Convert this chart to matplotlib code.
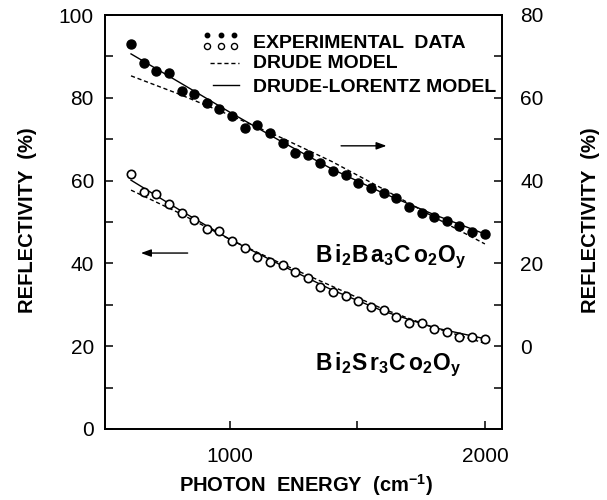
import matplotlib
matplotlib.use("Agg")
import matplotlib.pyplot as plt
from matplotlib.ticker import FixedLocator

plt.rcParams.update({
    "font.family": "Liberation Sans",
    "mathtext.fontset": "custom",
    "mathtext.rm": "Liberation Sans:bold",
    "mathtext.it": "Liberation Sans:bold",
    "mathtext.bf": "Liberation Sans:bold",
    "mathtext.default": "rm",
})

# photon energy (cm-1) of the measured points
energy = [612, 662, 711, 761, 810, 860, 909, 959, 1008, 1058, 1107, 1157, 1207, 1256, 1306,
          1355, 1405, 1454, 1504, 1554, 1603, 1653, 1702, 1752, 1801, 1851, 1900, 1950, 2000]
# Bi2Ba3Co2Oy, read on the right axis
ba_exp = [72.9, 68.4, 66.5, 65.9, 61.6, 60.8, 58.8, 57.4, 55.5, 52.6, 53.5, 51.4, 49.0, 46.7, 46.3,
          44.2, 42.2, 41.4, 39.3, 38.1, 36.9, 35.8, 33.6, 32.1, 31.2, 30.2, 29.0, 27.7, 27.2]
# Bi2Sr3Co2Oy, read on the left axis
sr_exp = [61.6, 57.3, 56.7, 54.3, 52.2, 50.5, 48.2, 47.8, 45.4, 43.8, 41.6, 40.4, 39.6, 38.0, 36.4,
          34.4, 33.2, 32.1, 30.8, 29.4, 28.7, 27.0, 25.5, 25.5, 24.1, 23.5, 22.2, 22.2, 21.7]

model_e = [612, 800, 1000, 1200, 1400, 1600, 1800, 2000]
ba_drude = [65.3, 60.9, 55.8, 50.4, 44.6, 38.0, 31.2, 24.7]
ba_dl = [70.6, 63.8, 56.5, 49.5, 42.8, 37.0, 31.8, 27.1]
sr_drude = [57.7, 52.2, 45.8, 40.0, 34.5, 29.0, 24.5, 20.7]
sr_dl = [60.1, 53.0, 45.8, 39.6, 33.6, 28.5, 24.5, 21.8]

DASH = (0, (3, 2))
LW = 1.0

fig = plt.figure(figsize=(6.07, 5.0), dpi=100)
ax = fig.add_axes([0.173, 0.142, 0.654, 0.828])
ax2 = ax.twinx()

ax.set_xlim(510, 2067)
ax.set_ylim(0, 100)
ax2.set_ylim(-20, 80)

# Ba sample (right axis)
ax2.plot(model_e, ba_dl, color="black", lw=LW)
ax2.plot(model_e, ba_drude, color="black", lw=LW, linestyle=DASH)
ax2.plot(energy, ba_exp, "o", color="black", ms=6.5, zorder=3)

# Sr sample (left axis)
ax.plot(model_e, sr_dl, color="black", lw=LW)
ax.plot(model_e, sr_drude, color="black", lw=LW, linestyle=DASH)
ax.plot(energy, sr_exp, "o", mfc="white", mec="black", mew=1.2, ms=6, zorder=3)

# arrows showing which axis each curve uses
ax.annotate("", xy=(1625, 68.4), xytext=(1425, 68.4),
            arrowprops=dict(arrowstyle="-|>,head_length=0.6,head_width=0.22", color="black", lw=1.0))
ax.annotate("", xy=(640, 42.5), xytext=(845, 42.5),
            arrowprops=dict(arrowstyle="-|>,head_length=0.6,head_width=0.22", color="black", lw=1.0))

ax.text(1333, 41.5, r"$B\,i_{2}B\,a_{3}C\,o_{2}O_{y}$", fontsize=16.5, va="center", ha="left")
ax.text(1333, 15.5, r"$B\,i_{2}S\,r_{3}C\,o_{2}O_{y}$", fontsize=16.5, va="center", ha="left")

# hand-made legend
tr = ax.transAxes
ax.plot([0.258, 0.291, 0.324], [0.952, 0.952, 0.952], "o", color="black", ms=3.2, transform=tr, clip_on=False)
ax.plot([0.258, 0.291, 0.324], [0.926, 0.926, 0.926], "o", mfc="white", mec="black", mew=1.0, ms=4.4,
        transform=tr, clip_on=False)
ax.plot([0.265, 0.338], [0.884, 0.884], color="black", lw=LW, linestyle=DASH, transform=tr)
ax.plot([0.272, 0.338], [0.831, 0.831], color="black", lw=LW, transform=tr)
for y, s in [(0.930, "EXPERIMENTAL  DATA"), (0.882, "DRUDE MODEL"), (0.826, "DRUDE-LORENTZ MODEL")]:
    ax.text(0.373, y, s, transform=tr, fontsize=14, fontweight="bold", va="center", ha="left")

# ticks
ax.xaxis.set_major_locator(FixedLocator([1000, 2000]))
ax.xaxis.set_minor_locator(FixedLocator([1500]))
ax.yaxis.set_major_locator(FixedLocator([0, 20, 40, 60, 80, 100]))
ax.yaxis.set_minor_locator(FixedLocator([10, 30, 50, 70, 90]))
ax2.yaxis.set_major_locator(FixedLocator([0, 20, 40, 60, 80]))
ax2.yaxis.set_minor_locator(FixedLocator([-10, 10, 30, 50, 70]))
for a in (ax, ax2):
    a.tick_params(which="both", direction="in", length=6, width=1.1, labelsize=15, pad=8)
    for sp in a.spines.values():
        sp.set_linewidth(1.3)
ax.tick_params(axis="x", pad=13)
ax2.tick_params(axis="y", pad=13)

fig.text(28 / 607, 1 - 220 / 500, "REFLECTIVITY  (%)", rotation=90, fontsize=14.5, fontweight="bold",
         ha="center", va="center")
fig.text(590 / 607, 1 - 220 / 500, "REFLECTIVITY  (%)", rotation=90, fontsize=14.5, fontweight="bold",
         ha="center", va="center")
fig.text(306 / 607, 1 - 485 / 500, "PHOTON  ENERGY  (cm$^{-1}$)", fontsize=14.5, fontweight="bold",
         ha="center", va="center")

fig.savefig("out.png", dpi=100, facecolor="white")
